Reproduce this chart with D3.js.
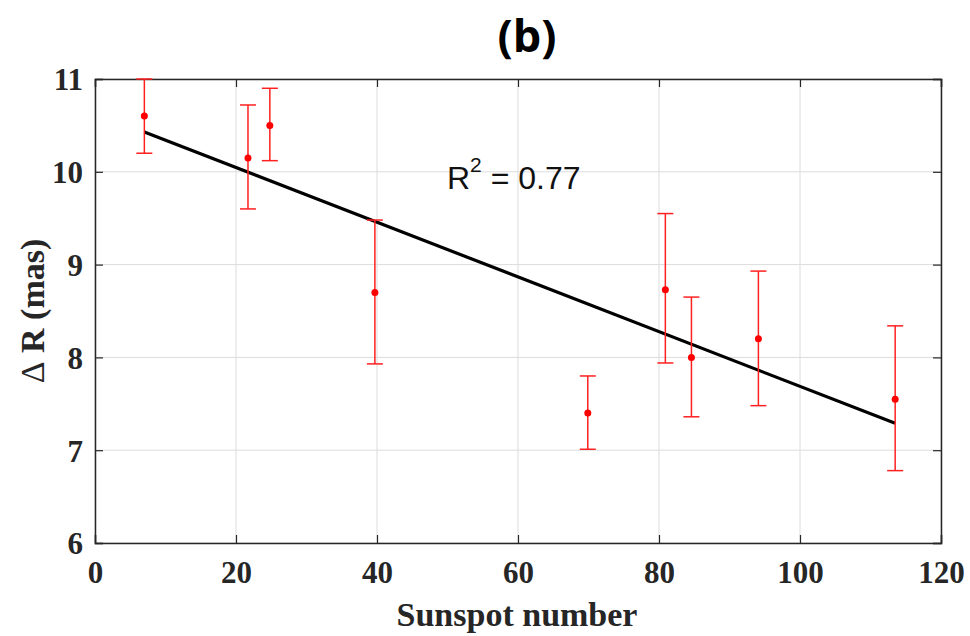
<!DOCTYPE html>
<html><head><meta charset="utf-8">
<script src="https://cdn.jsdelivr.net/npm/d3@7"></script>
<style>body{margin:0;background:#fff}</style>
</head><body>
<svg id="c" width="970" height="636"></svg>
<script>
const sunspot = [7.0, 21.7, 24.8, 39.7, 69.9, 80.9, 84.6, 94.1, 113.5];
const deltaR  = [10.60, 10.15, 10.50, 8.70, 7.40, 8.73, 8.00, 8.20, 7.55];
const errUp   = [0.40, 0.57, 0.40, 0.78, 0.40, 0.82, 0.65, 0.73, 0.79];
const errDown = [0.40, 0.55, 0.38, 0.77, 0.39, 0.79, 0.64, 0.72, 0.77];
const fitX = [7.0, 113.5];
const fitY = [10.43, 7.29];
const xTicks = [0, 20, 40, 60, 80, 100, 120];
const yTicks = [6, 7, 8, 9, 10, 11];

const svg = d3.select("#c");
const L = 95, R = 941, T = 79, B = 543;
const x = d3.scaleLinear().domain([0, 120]).range([L, R]);
const y = d3.scaleLinear().domain([6, 11]).range([B, T]);
const axisColor = "#262626";

// grid
const g = svg.append("g");
g.selectAll(".gx").data(xTicks).join("line")
  .attr("x1", d => x(d)).attr("x2", d => x(d)).attr("y1", T).attr("y2", B)
  .attr("stroke", "#dcdcdc").attr("stroke-width", 1);
g.selectAll(".gy").data(yTicks).join("line")
  .attr("y1", d => y(d)).attr("y2", d => y(d)).attr("x1", L).attr("x2", R)
  .attr("stroke", "#dcdcdc").attr("stroke-width", 1);

// axes
const tickFont = "'Liberation Serif', 'Times New Roman', serif";
const xa = svg.append("g").attr("transform", `translate(0,${B})`)
  .call(d3.axisBottom(x).tickValues(xTicks).tickSize(-8).tickPadding(18).tickFormat(d3.format("d")));
const xt = svg.append("g").attr("transform", `translate(0,${T})`)
  .call(d3.axisTop(x).tickValues(xTicks).tickSize(-8).tickFormat(""));
const ya = svg.append("g").attr("transform", `translate(${L},0)`)
  .call(d3.axisLeft(y).tickValues(yTicks).tickSize(-8).tickPadding(12).tickFormat(d3.format("d")));
const yr = svg.append("g").attr("transform", `translate(${R},0)`)
  .call(d3.axisRight(y).tickValues(yTicks).tickSize(-8).tickFormat(""));
[xa, xt, ya, yr].forEach(a => {
  a.selectAll("path").attr("stroke", axisColor).attr("stroke-width", 1.5);
  a.selectAll("line").attr("stroke", axisColor).attr("stroke-width", 1.2);
  a.selectAll("text").attr("fill", axisColor).attr("font-family", tickFont)
    .attr("font-weight", "bold").attr("font-size", 31);
});
xa.selectAll("text").attr("dy", "0.71em");
ya.selectAll("text").attr("dy", "0.35em");

// fit line
svg.append("line")
  .attr("x1", x(fitX[0])).attr("y1", y(fitY[0]))
  .attr("x2", x(fitX[1])).attr("y2", y(fitY[1]))
  .attr("stroke", "#000").attr("stroke-width", 3.2);

// error bars
const pts = sunspot.map((s, i) => ({s, v: deltaR[i], up: errUp[i], dn: errDown[i]}));
const eb = svg.append("g").attr("stroke", "#ff2020").attr("stroke-width", 1.5);
eb.selectAll(".v").data(pts).join("line")
  .attr("x1", d => x(d.s)).attr("x2", d => x(d.s))
  .attr("y1", d => y(d.v + d.up)).attr("y2", d => y(d.v - d.dn));
eb.selectAll(".ct").data(pts).join("line")
  .attr("x1", d => x(d.s) - 8).attr("x2", d => x(d.s) + 8)
  .attr("y1", d => y(d.v + d.up)).attr("y2", d => y(d.v + d.up));
eb.selectAll(".cb").data(pts).join("line")
  .attr("x1", d => x(d.s) - 8).attr("x2", d => x(d.s) + 8)
  .attr("y1", d => y(d.v - d.dn)).attr("y2", d => y(d.v - d.dn));
svg.append("g").selectAll("circle").data(pts).join("circle")
  .attr("cx", d => x(d.s)).attr("cy", d => y(d.v)).attr("r", 3.5).attr("fill", "#ff0000");

// R^2 annotation
const rt = svg.append("text").attr("x", 447).attr("y", 189)
  .attr("font-family", "'Liberation Sans', Arial, sans-serif").attr("font-size", 32).attr("fill", "#111");
rt.append("tspan").text("R");
rt.append("tspan").attr("dy", -17).attr("font-size", 21).text("2");
rt.append("tspan").attr("dy", 17).text(" = 0.77");

// title
svg.append("text").attr("x", 527).attr("y", 52).attr("text-anchor", "middle")
  .attr("font-family", "'Open Sans', sans-serif").attr("font-weight", "bold").attr("font-size", 45)
  .attr("fill", "#000").text("(b)");

// axis labels
svg.append("text").attr("x", 517).attr("y", 626).attr("text-anchor", "middle")
  .attr("font-family", tickFont).attr("font-weight", "bold").attr("font-size", 34)
  .attr("fill", axisColor).text("Sunspot number");
const yl = svg.append("text").attr("transform", `translate(44,311) rotate(-90)`).attr("text-anchor", "middle")
  .attr("font-family", tickFont).attr("font-weight", "bold").attr("font-size", 34)
  .attr("fill", axisColor);
yl.append("tspan").attr("font-weight", "normal").text("\u0394");
yl.append("tspan").text(" R (mas)");
</script>
</body></html>
